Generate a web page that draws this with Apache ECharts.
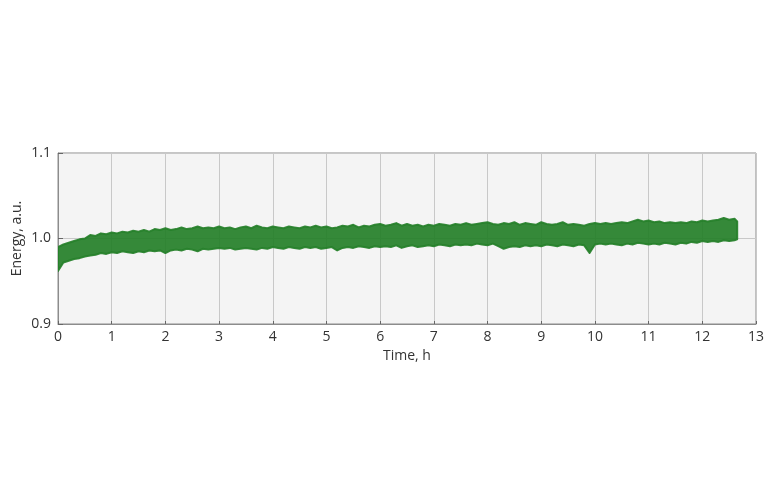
<!DOCTYPE html>
<html>
<head>
<meta charset="utf-8">
<script src="https://cdn.jsdelivr.net/npm/echarts@6/dist/echarts.min.js"></script>
<style>html,body{margin:0;padding:0;background:#fff}#c{width:768px;height:480px}</style>
</head>
<body>
<div id="c"></div>
<script>
// time samples, h
const timeH = [0.0,0.1,0.2,0.3,0.4,0.5,0.6,0.7,0.8,0.9,1.0,1.1,1.2,1.3,1.4,1.5,1.6,1.7,1.8,1.9,
2.0,2.1,2.2,2.3,2.4,2.5,2.6,2.7,2.8,2.9,3.0,3.1,3.2,3.3,3.4,3.5,3.6,3.7,3.8,3.9,
4.0,4.1,4.2,4.3,4.4,4.5,4.6,4.7,4.8,4.9,5.0,5.1,5.2,5.3,5.4,5.5,5.6,5.7,5.8,5.9,
6.0,6.1,6.2,6.3,6.4,6.5,6.6,6.7,6.8,6.9,7.0,7.1,7.2,7.3,7.4,7.5,7.6,7.7,7.8,7.9,
8.0,8.1,8.2,8.3,8.4,8.5,8.6,8.7,8.8,8.9,9.0,9.1,9.2,9.3,9.4,9.5,9.6,9.7,9.8,9.9,
10.0,10.1,10.2,10.3,10.4,10.5,10.6,10.7,10.8,10.9,11.0,11.1,11.2,11.3,11.4,11.5,11.6,11.7,11.8,11.9,
12.0,12.1,12.2,12.3,12.4,12.5,12.6,12.65];
// upper envelope of the energy signal, a.u.
const energyUpper = [0.990,0.993,0.995,0.997,0.999,1.000,1.004,1.003,1.006,1.005,
1.007,1.006,1.008,1.007,1.009,1.008,1.010,1.008,1.011,1.010,
1.012,1.010,1.011,1.013,1.011,1.012,1.014,1.012,1.013,1.012,
1.014,1.012,1.013,1.011,1.013,1.014,1.012,1.015,1.013,1.012,
1.014,1.013,1.012,1.014,1.013,1.012,1.014,1.013,1.015,1.013,
1.014,1.012,1.013,1.015,1.014,1.016,1.013,1.015,1.014,1.016,
1.017,1.015,1.016,1.018,1.015,1.017,1.015,1.016,1.014,1.016,
1.015,1.017,1.016,1.015,1.017,1.016,1.018,1.016,1.017,1.018,
1.019,1.017,1.016,1.018,1.017,1.019,1.016,1.018,1.017,1.016,
1.019,1.017,1.016,1.017,1.019,1.016,1.017,1.016,1.015,1.017,
1.018,1.017,1.018,1.017,1.018,1.019,1.018,1.020,1.022,1.020,
1.021,1.019,1.020,1.018,1.019,1.018,1.019,1.018,1.020,1.019,
1.021,1.020,1.021,1.022,1.024,1.022,1.023,1.020];
// lower envelope of the energy signal, a.u.
const energyLower = [0.962,0.972,0.974,0.976,0.977,0.979,0.980,0.981,0.983,0.982,
0.984,0.983,0.985,0.984,0.983,0.985,0.984,0.986,0.985,0.986,
0.983,0.986,0.987,0.986,0.988,0.987,0.985,0.988,0.987,0.988,
0.989,0.988,0.989,0.987,0.988,0.989,0.988,0.987,0.989,0.988,
0.990,0.989,0.988,0.990,0.989,0.988,0.990,0.989,0.990,0.988,
0.989,0.990,0.986,0.989,0.990,0.989,0.991,0.990,0.989,0.991,
0.990,0.991,0.990,0.992,0.989,0.991,0.992,0.990,0.991,0.992,
0.991,0.993,0.992,0.991,0.993,0.992,0.993,0.992,0.994,0.993,
0.992,0.994,0.991,0.988,0.990,0.991,0.990,0.992,0.991,0.992,
0.991,0.993,0.992,0.991,0.993,0.992,0.991,0.993,0.992,0.983,
0.993,0.994,0.993,0.994,0.993,0.992,0.994,0.993,0.995,0.994,
0.993,0.994,0.993,0.995,0.994,0.993,0.995,0.994,0.996,0.995,
0.997,0.996,0.997,0.996,0.998,0.997,0.998,0.999];
const xTicks = [0,1,2,3,4,5,6,7,8,9,10,11,12,13];
const yTicks = [0.9,1.0,1.1];

const green = '#26802a';
const bandData = timeH.map((t,i)=>[t, energyLower[i], energyUpper[i]]);

const chart = echarts.init(document.getElementById('c'));
const font = '"Open Sans", "Noto Sans", sans-serif';
chart.setOption({
  animation:false,
  backgroundColor:'#ffffff',
  grid:{left:58,right:12,top:153,bottom:156,outerBoundsMode:'none',containLabel:false,
        show:true,backgroundColor:'#f4f4f4',borderColor:'#8c8c8c',borderWidth:1},
  xAxis:{
    type:'value',min:xTicks[0],max:xTicks[xTicks.length-1],interval:1,
    name:'Time, h',nameLocation:'middle',nameGap:25,nameMoveOverlap:false,
    nameTextStyle:{fontFamily:font,fontSize:14,color:'#333'},
    axisLine:{show:true,lineStyle:{color:'#8c8c8c'}},
    axisTick:{show:true,inside:true,length:3,lineStyle:{color:'#666'}},
    axisLabel:{fontFamily:font,fontSize:14,color:'#333',margin:6},
    splitLine:{show:true,lineStyle:{color:'#c8c8c8',width:1}}
  },
  yAxis:{
    type:'value',min:yTicks[0],max:yTicks[yTicks.length-1],interval:0.1,
    name:'Energy, a.u.',nameLocation:'middle',nameGap:34,nameMoveOverlap:false,
    nameTextStyle:{fontFamily:font,fontSize:14,color:'#333'},
    axisLine:{show:true,lineStyle:{color:'#8c8c8c'}},
    axisTick:{show:true,inside:true,length:5,lineStyle:{color:'#666'}},
    axisLabel:{fontFamily:font,fontSize:14,color:'#333',margin:7,formatter:v=>v.toFixed(1)},
    splitLine:{show:true,lineStyle:{color:'#c8c8c8',width:1}}
  },
  series:[{
    type:'custom',
    data:bandData,
    silent:true,
    clip:true,
    renderItem:function(params, api){
      if (params.dataIndex !== 0) return null;
      const top = bandData.map(d=>api.coord([d[0], d[2]]));
      const bot = bandData.slice().reverse().map(d=>api.coord([d[0], d[1]]));
      return {
        type:'polygon',
        shape:{points: top.concat(bot)},
        style:{fill:green, stroke:green, lineWidth:2, lineJoin:'round', opacity:0.93}
      };
    }
  }]
});
</script>
</body>
</html>
